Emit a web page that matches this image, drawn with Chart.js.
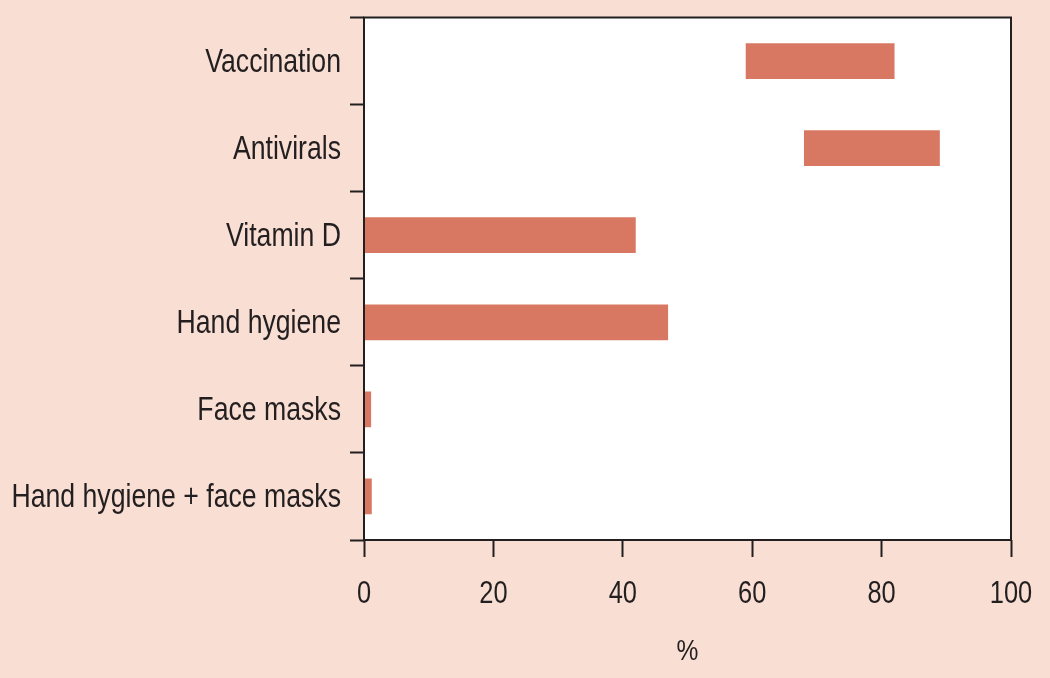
<!DOCTYPE html>
<html lang="en">
<head>
    <meta charset="UTF-8">
    <title>Interventions (%)</title>
    <style>
        * { margin: 0; padding: 0; box-sizing: border-box; }
        body { background: #F9DED3; width: 1050px; height: 678px; overflow: hidden; }
        canvas { display: block; }
    </style>
</head>
<body>
    <canvas id="chart" width="1050" height="678"></canvas>

    <script src="https://cdn.jsdelivr.net/npm/chart.js@4.4.1/dist/chart.umd.min.js"></script>
    <script>
        const categories = ['Vaccination', 'Antivirals', 'Vitamin D', 'Hand hygiene', 'Face masks', 'Hand hygiene + face masks'];
        const barStart = [59, 68, 0, 0, 0, 0];
        const barEnd = [82, 89, 42, 47, 1.1, 1.2];
        const xTicks = [0, 20, 40, 60, 80, 100];
        const xTitle = '%';

        const ink = '#231F20';
        const labelFont = "'Liberation Sans', Arial, sans-serif";
        const squeeze = 0.82; // the original uses a condensed Helvetica

        function narrowText(ctx, text, x, y, size, align) {
            ctx.save();
            ctx.translate(x, y);
            ctx.scale(squeeze, 1);
            ctx.font = size + 'px ' + labelFont;
            ctx.fillStyle = ink;
            ctx.textAlign = align;
            ctx.textBaseline = 'middle';
            ctx.fillText(text, 0, 0);
            ctx.restore();
        }

        // white plot panel, box around it, and condensed labels
        const panel = {
            id: 'panel',
            beforeDraw(chart) {
                const a = chart.chartArea, ctx = chart.ctx;
                ctx.save();
                ctx.fillStyle = '#FFFFFF';
                ctx.fillRect(a.left, a.top, a.right - a.left, a.bottom - a.top);
                ctx.restore();
            },
            afterDraw(chart) {
                const a = chart.chartArea, ctx = chart.ctx;
                ctx.save();
                ctx.strokeStyle = ink;
                ctx.lineWidth = 2;
                ctx.strokeRect(a.left, a.top, a.right - a.left, a.bottom - a.top);
                ctx.restore();

                const ys = chart.scales.y, xs = chart.scales.x;
                ys.ticks.forEach((t, i) => {
                    narrowText(ctx, categories[i], a.left - 23, ys.getPixelForTick(i) + 2, 32.5, 'right');
                });
                xs.ticks.forEach(t => {
                    narrowText(ctx, String(t.value), xs.getPixelForValue(t.value), 594, 31, 'center');
                });
                narrowText(ctx, xTitle, (a.left + a.right) / 2, 652, 30, 'center');
            }
        };

        new Chart(document.getElementById('chart'), {
            type: 'bar',
            data: {
                labels: categories,
                datasets: [{
                    data: categories.map((c, i) => [barStart[i], barEnd[i]]),
                    backgroundColor: '#D97862',
                    borderWidth: 0,
                    barPercentage: 0.41,
                    categoryPercentage: 1
                }]
            },
            options: {
                indexAxis: 'y',
                responsive: false,
                animation: false,
                layout: { padding: { top: 17.5, right: 39, left: 0, bottom: 0 } },
                plugins: { legend: { display: false }, tooltip: { enabled: false } },
                scales: {
                    x: {
                        min: 0,
                        max: 100,
                        afterBuildTicks: s => { s.ticks = xTicks.map(v => ({ value: v })); },
                        afterFit: s => { s.height = 138; },
                        border: { display: false },
                        grid: { drawOnChartArea: false, tickLength: 17, tickWidth: 2, tickColor: ink },
                        ticks: { display: false }
                    },
                    y: {
                        afterFit: s => { s.width = 364; },
                        border: { display: false },
                        grid: { drawOnChartArea: false, offset: true, tickLength: 14, tickWidth: 2, tickColor: ink },
                        ticks: { display: false }
                    }
                }
            },
            plugins: [panel]
        });
    </script>
</body>
</html>
